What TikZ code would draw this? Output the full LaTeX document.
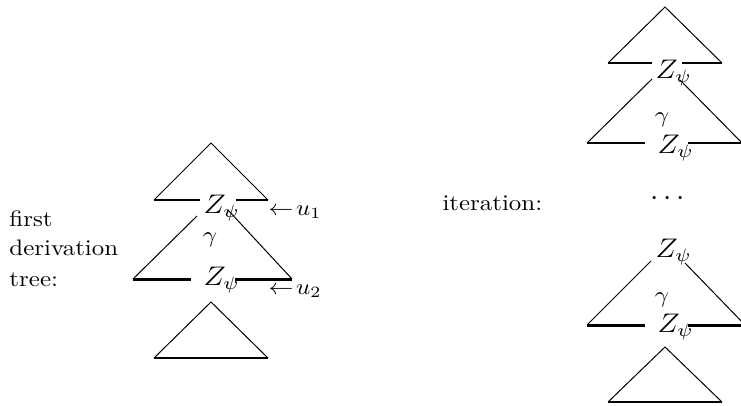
\documentclass[tikz,border=0pt]{standalone}
\usepackage{amsmath,amssymb}
\usepackage{graphicx}
\usepackage{tikz}
\usetikzlibrary{positioning}

\newcommand{\squash}[1]{\scalebox{1}[0.9]{#1}}

\tikzset{
  side/.style={line width=0.4pt},
  base/.style={line width=0.8pt},
  midbase/.style={line width=1.2pt},
  lbl/.style={inner sep=0pt, anchor=base west},
  zlbl/.style={lbl, font=\large}
}

\begin{document}
\begin{tikzpicture}[x={(0.4016pt,0)}, y={(0,-0.4016pt)}]
  \useasboundingbox (0,0) rectangle (741,405);

  % Caption left
  \node[lbl] (first) at (9, 226.7) {\squash{first}};
  \node[lbl] (deriv) at (9, 255.5) {\squash{derivation}};
  \node[lbl] (treelbl) at (9, 286.7) {\squash{tree:}};

  % First derivation tree: top triangle
  \draw[side] (154, 200) -- (211, 143) -- (268, 200);
  \draw[base] (154, 200) -- (200, 200);
  \draw[base] (236, 200) -- (268, 200);
  \node[zlbl] (zone) at (203, 213) {\squash{$Z_\psi$}};
  \node[lbl] (uone) at (268, 215) {\squash{$\leftarrow\! u_1$}};

  % First derivation tree: gamma part
  \draw[side] (197, 216) -- (133, 279);
  \draw[side] (228, 210) -- (292, 279);
  \draw[midbase] (133, 279) -- (191, 279);
  \draw[midbase] (235, 279) -- (292, 279);
  \node (gone) at (210, 240) {\squash{$\gamma$}};
  \node[zlbl] (ztwo) at (203, 285) {\squash{$Z_\psi$}};
  \node[lbl] (utwo) at (268, 294) {\squash{$\leftarrow\! u_2$}};

  % First derivation tree: bottom triangle
  \draw[side] (154, 358) -- (211, 302) -- (268, 358);
  \draw[base] (154, 358) -- (268, 358);

  % Caption right
  \node[lbl] (iter) at (442, 210.7) {\squash{iteration:}};

  % Iteration: top triangle
  \draw[side] (608, 63) -- (665, 7) -- (722, 63);
  \draw[base] (608, 63) -- (652, 63);
  \draw[base] (682, 63) -- (722, 63);
  \node[zlbl] (zthree) at (655, 78) {\squash{$Z_\psi$}};

  % Iteration: first gamma part
  \draw[side] (652, 79) -- (587, 143);
  \draw[side] (680, 80) -- (745, 146);
  \draw[midbase] (587, 143) -- (645, 143);
  \draw[midbase] (688, 143) -- (745, 143);
  \node (gtwo) at (662, 120) {\squash{$\gamma$}};
  \node[zlbl] (zfour) at (657, 153) {\squash{$Z_\psi$}};

  % Dots
  \node (dots) at (670, 199) {\large$\cdots$};

  % Iteration: last gamma part
  \node[zlbl] (zfive) at (655, 257) {\squash{$Z_\psi$}};
  \draw[side] (651, 261) -- (587, 325);
  \draw[side] (685, 263) -- (745, 325);
  \draw[midbase] (587, 325) -- (645, 325);
  \draw[midbase] (688, 325) -- (745, 325);
  \node (gthree) at (662, 300) {\squash{$\gamma$}};
  \node[zlbl] (zsix) at (657, 332) {\squash{$Z_\psi$}};

  % Iteration: bottom triangle
  \draw[side] (608, 402) -- (665, 347) -- (722, 402);
  \draw[base] (608, 402) -- (722, 402);
\end{tikzpicture}
\end{document}
